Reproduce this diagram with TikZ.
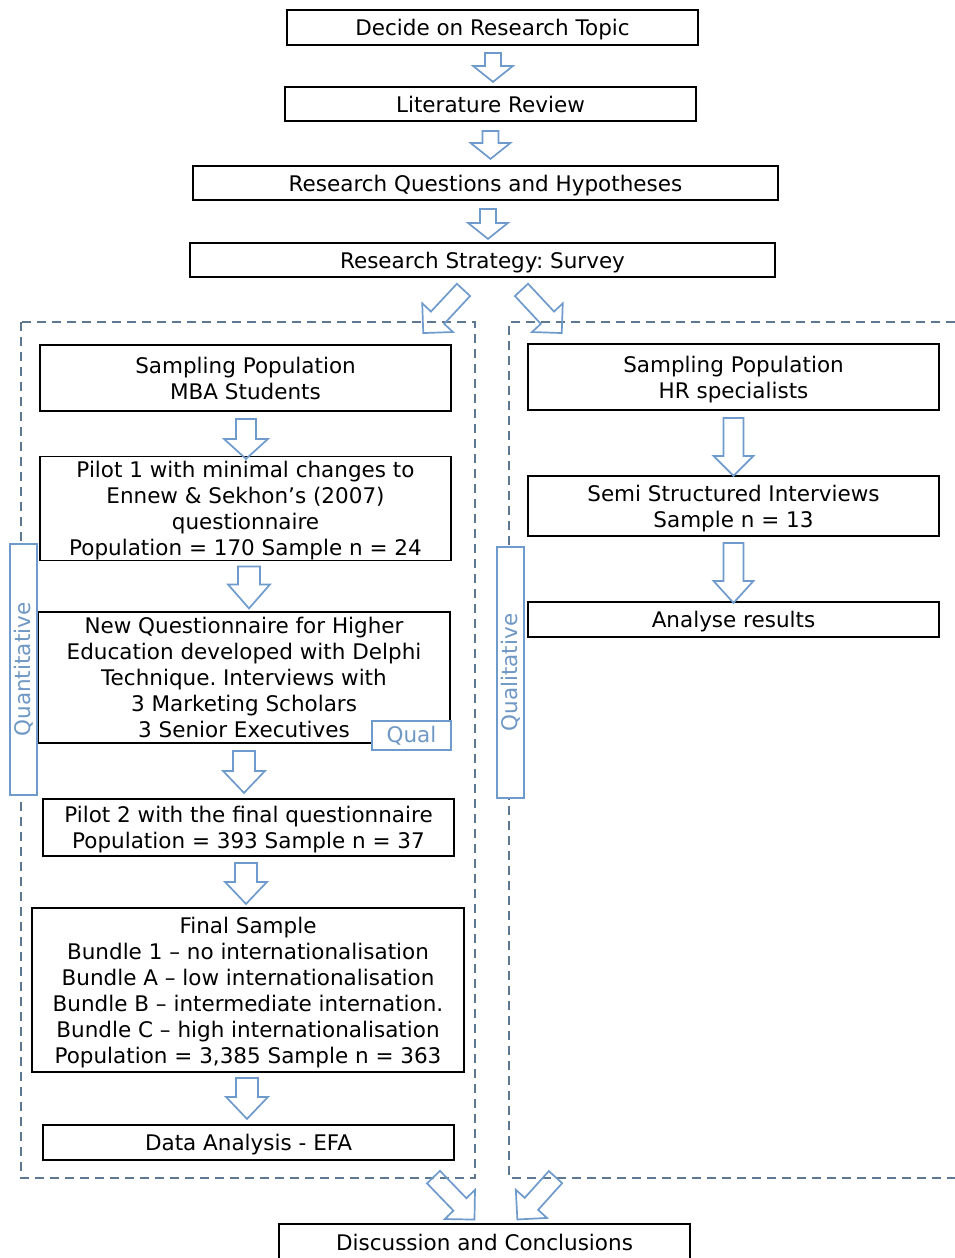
\documentclass[tikz,border=0pt]{standalone}
\usepackage{fontspec}
\setmainfont{DejaVu Sans}
\usetikzlibrary{calc}
\frenchspacing

\definecolor{arrowblue}{HTML}{6E9BCB}
\definecolor{dashgray}{HTML}{5F7892}
\definecolor{labelblue}{HTML}{6F98C4}

% fixed height for the first line of a box
\newcommand\firstline{\rule{0pt}{21pt}}

\tikzset{
  box/.style={draw=black, line width=1.8pt, fill=white, inner sep=0pt,
    align=center, text=black, font=\fontsize{21.5}{26}\selectfont,
    execute at end node={\rule[-5pt]{0pt}{0pt}}},
  tag/.style={draw=arrowblue, line width=1.5pt, fill=white, inner sep=0pt,
    text=labelblue, font=\fontsize{21.5}{26}\selectfont},
  frame/.style={draw=dashgray, line width=2.2pt, dash pattern=on 9pt off 6pt},
  blockline/.style={draw=arrowblue, line width=1.7pt, line join=miter},
  arrow len/.store in=\barlen, arrow len=40,
  shaft half/.store in=\barshaft, shaft half=10,
  head half/.store in=\barhead, head half=21,
  head len/.store in=\barheadlen, head len=21,
  % hollow block arrow: tail at the origin, pointing along +x
  barrow/.pic={
    \draw[blockline] (0,-\barshaft) -- ({\barlen-\barheadlen},-\barshaft)
      -- ({\barlen-\barheadlen},-\barhead) -- (\barlen,0)
      -- ({\barlen-\barheadlen},\barhead) -- ({\barlen-\barheadlen},\barshaft)
      -- (0,\barshaft) -- cycle;
  }
}

\begin{document}
\begin{tikzpicture}[x=1pt,y=1pt]
\fill[white] (0,0) rectangle (955,-1258);
\useasboundingbox (0,0) rectangle (955,-1258);

% dashed group frames
\draw[frame] (21,-322) rectangle (475,-1178);
\draw[frame] (955,-322) -- (509,-322) -- (509,-1178) -- (955,-1178);

% main sequence
\node[box, minimum width=411, minimum height=35] (topic) at (492.5,-27.5) {\firstline Decide on Research Topic};
\node[box, minimum width=411, minimum height=34] (lit) at (490.5,-104) {\firstline Literature Review};
\node[box, minimum width=585, minimum height=34] (rq) at (485.5,-183) {\firstline Research Questions and Hypotheses};
\node[box, minimum width=585, minimum height=34] (rs) at (482.5,-260) {\firstline Research Strategy: Survey};

% quantitative branch
\node[box, minimum width=411, minimum height=66] (mba) at (245.5,-378) {\firstline Sampling Population\\MBA Students};
\node[box, minimum width=411, minimum height=103] (pilot1) at (245.5,-508.5) {\firstline Pilot 1 with minimal changes to\\Ennew \& Sekhon’s (2007)\\questionnaire\\Population = 170 Sample n = 24};
\node[box, minimum width=412, minimum height=131] (newq) at (244,-677.5) {\firstline New Questionnaire for Higher\\Education developed with Delphi\\Technique. Interviews with\\3 Marketing Scholars\\3 Senior Executives};
\node[tag, minimum width=79, minimum height=29] (qual) at (411.5,-735.5) {Qual};
\node[box, minimum width=411, minimum height=57] (pilot2) at (248.5,-827.5) {\firstline Pilot 2 with the final questionnaire\\Population = 393 Sample n = 37};
\node[box, minimum width=432, minimum height=164] (final) at (248,-990) {\firstline Final Sample\\Bundle 1 – no internationalisation\\Bundle A – low internationalisation\\Bundle B – intermediate internation.\\Bundle C – high internationalisation\\Population = 3,385 Sample n = 363};
\node[box, minimum width=411, minimum height=35] (efa) at (248.5,-1142.5) {\firstline Data Analysis - EFA};
\node[tag, rotate=90, minimum width=251, minimum height=27] (quant) at (23.5,-669.5) {Quantitative};

% qualitative branch
\node[box, minimum width=411, minimum height=66] (hr) at (733.5,-377) {\firstline Sampling Population\\HR specialists};
\node[box, minimum width=411, minimum height=60] (semi) at (733.5,-506) {\firstline Semi Structured Interviews\\Sample n = 13};
\node[box, minimum width=411, minimum height=35] (analyse) at (733.5,-619.5) {\firstline Analyse results};
\node[tag, rotate=90, minimum width=251, minimum height=27] (qualit) at (510.5,-672.5) {Qualitative};

% closing step
\node[box, minimum width=411, minimum height=36] (disc) at (484.5,-1242) {\firstline Discussion and Conclusions};

% block arrows of the main sequence
\pic[rotate=-90, arrow len=29, shaft half=8, head half=20, head len=16] at ($(topic.south)+(0.5,-7)$) {barrow};
\pic[rotate=-90, arrow len=28, shaft half=8, head half=20, head len=16] at ($(lit.south)+(0,-9)$) {barrow};
\pic[rotate=-90, arrow len=30, shaft half=8, head half=20, head len=16] at ($(rq.south)+(2.5,-8)$) {barrow};

% split into the two branches
\pic[rotate=-133, arrow len=59, shaft half=9, head half=21, head len=21] at ($(rs.south)+(-19,-12)$) {barrow};
\pic[rotate=-47, arrow len=59, shaft half=9, head half=21, head len=21] at ($(rs.south)+(39,-12)$) {barrow};

% quantitative branch arrows
\pic[rotate=-90, arrow len=40, shaft half=10, head half=22, head len=20] at ($(mba.south)+(0.5,-7)$) {barrow};
\pic[rotate=-90, arrow len=42, shaft half=11, head half=21, head len=24] at ($(pilot1.south)+(3.5,-5)$) {barrow};
\pic[rotate=-90, arrow len=42, shaft half=11, head half=21, head len=22] at ($(newq.south)+(0,-7)$) {barrow};
\pic[rotate=-90, arrow len=41, shaft half=11, head half=21, head len=22] at ($(pilot2.south)+(-2.5,-6)$) {barrow};
\pic[rotate=-90, arrow len=41, shaft half=11, head half=21, head len=22] at ($(final.south)+(-1,-5)$) {barrow};

% qualitative branch arrows
\pic[rotate=-90, arrow len=58, shaft half=10, head half=20, head len=20] at ($(hr.south)+(0,-7)$) {barrow};
\pic[rotate=-90, arrow len=60, shaft half=10, head half=20, head len=22] at ($(semi.south)+(0,-6)$) {barrow};

% merge towards the conclusions
\pic[rotate=-46, arrow len=59, shaft half=9, head half=21, head len=21] at ($(disc.north)+(-51,46)$) {barrow};
\pic[rotate=-132, arrow len=57, shaft half=9, head half=21, head len=21] at ($(disc.north)+(71,46)$) {barrow};
\end{tikzpicture}
\end{document}
